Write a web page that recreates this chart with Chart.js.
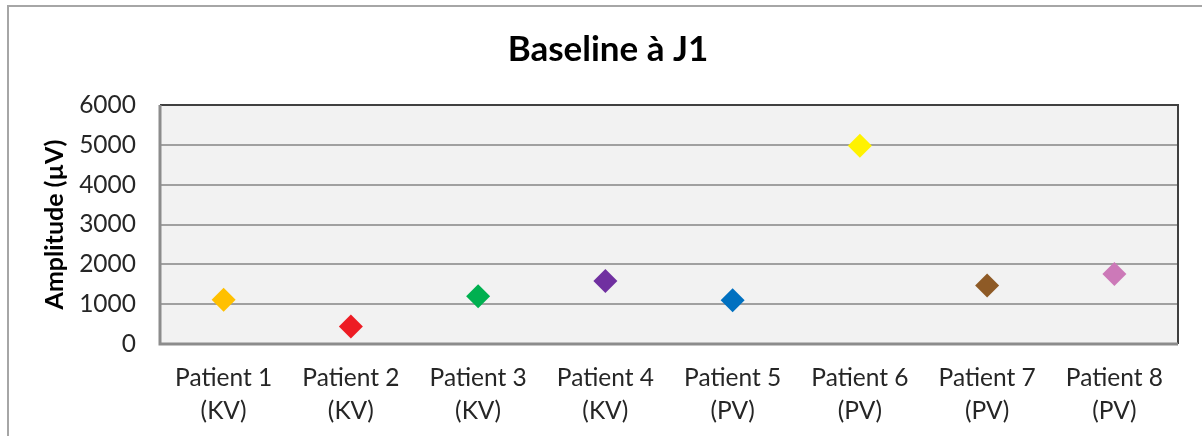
<!DOCTYPE html>
<html>
<head>
<meta charset="utf-8">
<script src="https://cdn.jsdelivr.net/npm/chart.js@4"></script>
<style>
  html, body { margin: 0; padding: 0; background: #ffffff; }
  #wrap { width: 1202px; height: 436px; position: relative; }
</style>
</head>
<body>
<div id="wrap"><canvas id="chart"></canvas></div>
<script>
const patients = ["Patient 1", "Patient 2", "Patient 3", "Patient 4", "Patient 5", "Patient 6", "Patient 7", "Patient 8"];
const groups = ["(KV)", "(KV)", "(KV)", "(KV)", "(PV)", "(PV)", "(PV)", "(PV)"];
const amplitudes = [1110, 440, 1200, 1580, 1100, 4980, 1470, 1760];
const pointColors = ["#FFC000", "#ED1C24", "#00B050", "#7030A0", "#0070C0", "#FFF200", "#8E5A26", "#CC79B8"];

const labels = patients.map((p, i) => [p, groups[i]]);

// grey plot background + frame around the whole chart
const frame = {
  id: "frame",
  beforeDraw(chart) {
    const { ctx, chartArea: a } = chart;
    ctx.save();
    ctx.fillStyle = "#f2f2f2";
    ctx.fillRect(a.left, a.top, a.right - a.left, a.bottom - a.top);
    ctx.strokeStyle = "#a6a6a6";
    ctx.lineWidth = 2;
    ctx.beginPath();
    ctx.moveTo(8, 436);
    ctx.lineTo(8, 6);
    ctx.lineTo(1202, 6);
    ctx.stroke();
    ctx.restore();
  },
  beforeDatasetsDraw(chart) {
    const { ctx, chartArea: a } = chart;
    ctx.save();
    ctx.strokeStyle = "#404040";
    ctx.lineWidth = 2;
    ctx.beginPath();
    ctx.moveTo(a.left, a.top);
    ctx.lineTo(a.right, a.top);
    ctx.lineTo(a.right, a.bottom);
    ctx.stroke();
    ctx.strokeStyle = "#8c8c8c";
    ctx.lineWidth = 3;
    ctx.beginPath();
    ctx.moveTo(a.left, a.top);
    ctx.lineTo(a.left, a.bottom);
    ctx.lineTo(a.right, a.bottom);
    ctx.stroke();
    ctx.restore();
  }
};

new Chart(document.getElementById("chart"), {
  type: "line",
  data: {
    labels,
    datasets: [{
      label: "Amplitude",
      data: amplitudes,
      showLine: false,
      pointStyle: "rectRot",
      pointRadius: 12,
      pointHoverRadius: 12,
      pointBorderWidth: 0,
      pointBackgroundColor: pointColors,
      pointBorderColor: pointColors
    }]
  },
  options: {
    responsive: true,
    maintainAspectRatio: false,
    animation: false,
    layout: { padding: { left: 38, right: 24, top: 0, bottom: 0 } },
    plugins: {
      legend: { display: false },
      tooltip: { enabled: false },
      title: {
        display: true,
        text: "Baseline à J1",
        color: "#000000",
        font: { family: "Lato", size: 35, weight: "bold", lineHeight: 1.2 },
        padding: { top: 29, bottom: 34 }
      }
    },
    scales: {
      x: {
        offset: true,
        grid: { display: false, offset: true, drawTicks: false },
        border: { display: false },
        ticks: {
          color: "#262626",
          font: { family: "Lato", size: 24.5, lineHeight: 1.33 },
          padding: 18,
          maxRotation: 0,
          autoSkip: false
        },
        afterFit: scale => { scale.height = 92; }
      },
      y: {
        min: 0,
        max: 6000,
        ticks: {
          stepSize: 1000,
          color: "#262626",
          font: { family: "Lato", size: 24.5 },
          padding: 24,
          callback: value => String(value)
        },
        grid: { color: "#a0a0a0", lineWidth: 2, drawTicks: false },
        border: { display: false },
        title: {
          display: true,
          text: "Amplitude (µV)",
          color: "#000000",
          font: { family: "Lato", size: 25, weight: "bold", lineHeight: 1.2 },
          padding: { top: 2, bottom: 0 }
        },
        afterFit: scale => { scale.width = 122; }
      }
    }
  },
  plugins: [frame]
});
</script>
</body>
</html>
